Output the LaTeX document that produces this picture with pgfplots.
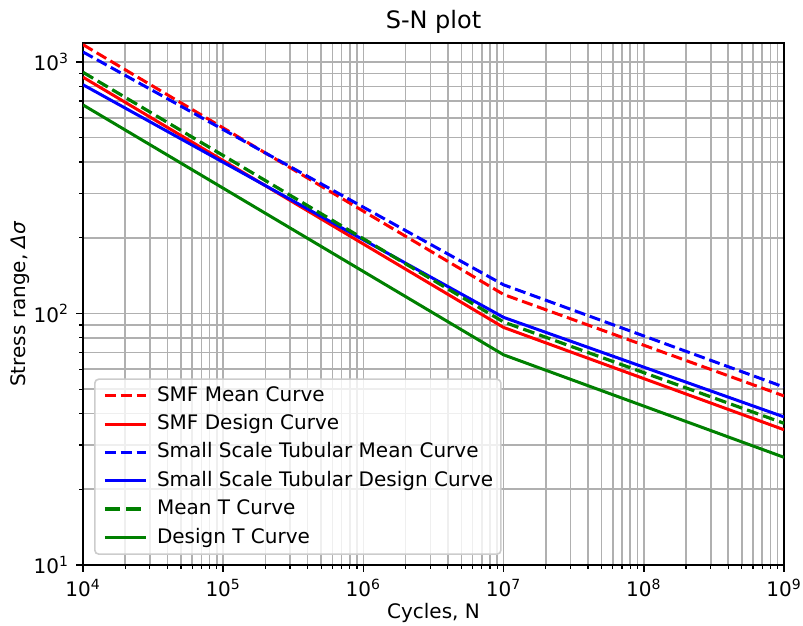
\documentclass[border=0pt]{standalone}
\usepackage{pgfplots}
\pgfplotsset{compat=1.18}
\usepackage{fontspec}
\setmainfont{DejaVu Sans}
\definecolor{mplred}{rgb}{1,0,0}
\definecolor{mplblue}{rgb}{0,0,1}
\definecolor{mplgreen}{rgb}{0,0.5,0}
\definecolor{gridgray}{RGB}{176,176,176}
\definecolor{legedge}{RGB}{204,204,204}
\begin{document}
\begin{tikzpicture}
\begin{axis}[
  xmode=log, ymode=log,
  scale only axis, width=350.5pt, height=261pt,
  xmin=1e4, xmax=1e9, ymin=10, ymax=1190,
  xtick={1e4,1e5,1e6,1e7,1e8,1e9},
  xticklabels={10\textsuperscript{4},10\textsuperscript{5},10\textsuperscript{6},10\textsuperscript{7},10\textsuperscript{8},10\textsuperscript{9}},
  ytick={10,100,1000},
  yticklabels={10\textsuperscript{1},10\textsuperscript{2},10\textsuperscript{3}},
  minor xtick={2e4,3e4,4e4,5e4,6e4,7e4,8e4,9e4,2e5,3e5,4e5,5e5,6e5,7e5,8e5,9e5,2e6,3e6,4e6,5e6,6e6,7e6,8e6,9e6,2e7,3e7,4e7,5e7,6e7,7e7,8e7,9e7,2e8,3e8,4e8,5e8,6e8,7e8,8e8,9e8},
  minor ytick={20,30,40,50,60,70,80,90,200,300,400,500,600,700,800,900},
  grid=both,
  major grid style={gridgray, line width=0.8pt},
  minor grid style={gridgray, line width=0.8pt},
  tick align=outside, tick pos=left,
  major tick length=3.5pt, minor tick length=2pt,
  every tick/.style={black, line width=0.8pt},
  minor tick style={black, line width=0.6pt},
  axis line style={line width=0.8pt},
  tick label style={font=\fontsize{10}{12}\selectfont},
  label style={font=\fontsize{10}{12}\selectfont},
  xlabel style={yshift=3.5pt},
  ylabel style={yshift=-4.75pt},
  title={S-N plot},
  title style={font=\fontsize{12}{14}\selectfont, yshift=-5pt},
  xlabel={Cycles, N},
  ylabel={Stress range, \textit{Δσ}},
  legend cell align=left,
  legend image code/.code={\draw[#1] (0pt,0pt) -- (20.5pt,0pt);},
  legend style={
    at={(0.0157,0.0192)}, anchor=south west,
    draw=legedge, line width=0.8pt, rounded corners=2pt,
    fill=white, fill opacity=0.8, text opacity=1,
    font=\fontsize{10}{12}\selectfont,
    inner xsep=3.9pt, inner ysep=3.5pt,
    row sep=4.7pt, column sep=4.5pt,
    nodes={inner sep=0pt, text height=7.5pt, text depth=2pt},
  },
]
\addplot[mplred, line width=1.5pt, dash pattern=on 5.55pt off 2.4pt] coordinates {(1e4,1172) (1e7,119) (1e9,47)};
\addlegendentry{SMF Mean Curve}
\addplot[mplred, line width=1.5pt] coordinates {(1e4,870) (1e7,88) (1e9,34.5)};
\addlegendentry{SMF Design Curve}
\addplot[mplblue, line width=1.5pt, dash pattern=on 5.55pt off 2.4pt] coordinates {(1e4,1096) (1e7,130) (1e9,51)};
\addlegendentry{Small Scale Tubular Mean Curve}
\addplot[mplblue, line width=1.5pt] coordinates {(1e4,812) (1e7,96.5) (1e9,38.8)};
\addlegendentry{Small Scale Tubular Design Curve}
\addplot[mplgreen, line width=1.6pt, dash pattern=on 5.9pt off 2.6pt, legend image post style={line width=2.2pt, dash pattern=on 7.4pt off 3.2pt}] coordinates {(1e4,910) (1e7,92.5) (1e9,36.6)};
\addlegendentry{Mean T Curve}
\addplot[mplgreen, line width=1.5pt] coordinates {(1e4,675) (1e7,68.5) (1e9,26.8)};
\addlegendentry{Design T Curve}
\end{axis}
\pgfresetboundingbox
\path[use as bounding box] (-41.5pt,-30.5pt) rectangle (360pt,282.5pt);
\end{tikzpicture}
\end{document}
